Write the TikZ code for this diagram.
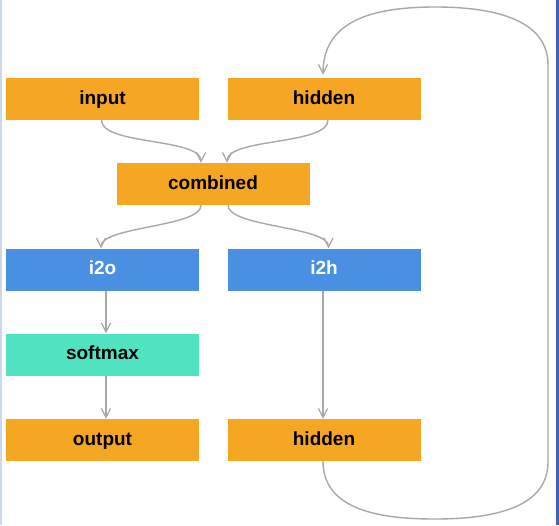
\documentclass[tikz,border=0pt]{standalone}
\usepackage{fontspec}
\setmainfont{Liberation Sans}
\usetikzlibrary{arrows.meta}
\definecolor{orng}{HTML}{F5A623}
\definecolor{blu}{HTML}{4A90E2}
\definecolor{teal2}{HTML}{50E3C2}
\definecolor{edge}{HTML}{A8A8A8}
\definecolor{rbar}{HTML}{3F63B9}
\definecolor{lbar}{HTML}{CCD7EE}
\begin{document}
\begin{tikzpicture}[x=1pt,y=-1pt,
  box/.style={minimum width=193pt,minimum height=42pt,inner sep=0pt,
    text height=14pt,text depth=4pt,
    font=\fontsize{19}{22}\selectfont\bfseries},
  ob/.style={box,fill=orng,text=black},
  bb/.style={box,fill=blu,text=white},
  tb/.style={box,fill=teal2,text=black},
  conn/.style={draw=edge,line width=1.4pt,-{Straight Barb[length=9pt,width=9pt,line width=1.2pt]}}]
\useasboundingbox (0,0) rectangle (559,525);
\fill[lbar] (0,0) rectangle (1.5,525);
\fill[rbar] (556,0) rectangle (559,525);
\node[ob] (input) at (102.5,99) {input};
\node[ob] (hid1) at (324,99) {hidden};
\node[ob] (comb) at (213,184) {combined};
\node[bb] (i2o) at (102.5,269.5) {i2o};
\node[bb] (i2h) at (324,269.5) {i2h};
\node[tb] (soft) at (102.5,354.5) {softmax};
\node[ob] (out) at (102.5,440) {output};
\node[ob] (hid2) at (324,440) {hidden};
\draw[conn] ([xshift=-1pt]input.south) .. controls +(0,25) and +(0,-25) .. ([xshift=-12pt]comb.north);
\draw[conn] ([xshift=4pt]hid1.south) .. controls +(0,25) and +(0,-25) .. ([xshift=14pt]comb.north);
\draw[conn] ([xshift=-12pt]comb.south) .. controls +(0,22) and +(0,-22) .. ([xshift=-1.5pt]i2o.north);
\draw[conn] ([xshift=15pt]comb.south) .. controls +(0,22) and +(0,-22) .. ([xshift=4.5pt]i2h.north);
\draw[conn] ([xshift=3.5pt]i2o.south) -- ([xshift=3.5pt]soft.north);
\draw[conn] ([xshift=3.5pt]soft.south) -- ([xshift=3.5pt]out.north);
\draw[conn] ([xshift=-1pt]i2h.south) -- ([xshift=-1pt]hid2.north);
\draw[conn] ([xshift=-1pt]hid2.south) .. controls (323,512) and (385,519) .. (435,519)
  .. controls (500,519) and (548,505) .. (548,462) -- (548,65)
  .. controls (548,22) and (500,7) .. (435,7)
  .. controls (370,7) and (323,22) .. ([xshift=-1pt,yshift=3pt]hid1.north);
\end{tikzpicture}
\end{document}
